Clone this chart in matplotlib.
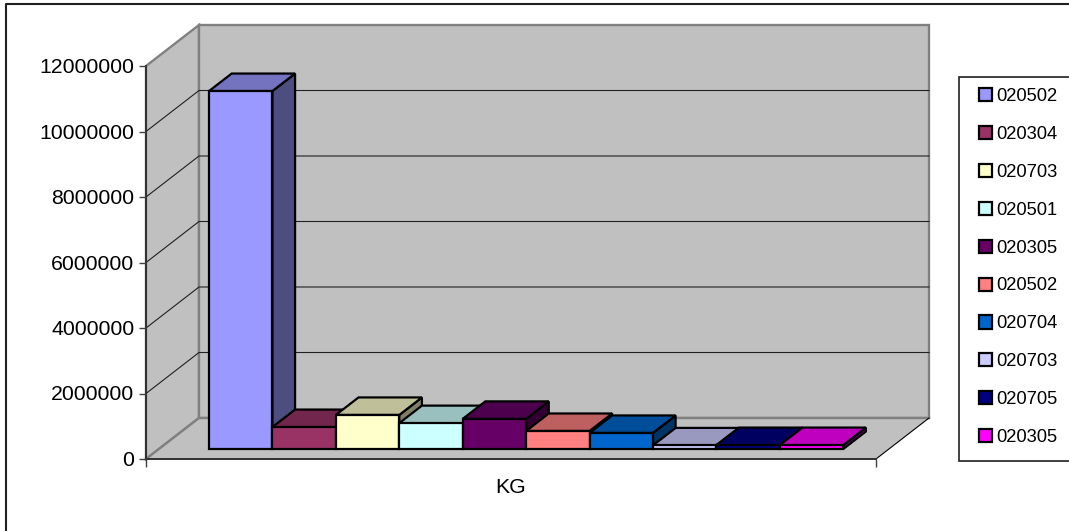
import matplotlib
matplotlib.use("Agg")
import matplotlib.pyplot as plt
from matplotlib.lines import Line2D
from matplotlib.patches import Polygon, Patch, Rectangle
from matplotlib.transforms import ScaledTranslation

plt.rcParams['font.family'] = ['Liberation Sans', 'DejaVu Sans']

# Data
codes = ['020502', '020304', '020703', '020501', '020305',
         '020502', '020704', '020703', '020705', '020305']
kg = [10930000, 670000, 1040000, 790000, 920000,
      550000, 490000, 110000, 120000, 120000]
face_colors = ['#9999FF', '#993366', '#FFFFCC', '#CCFFFF', '#660066',
               '#FF8080', '#0066CC', '#CCCCFF', '#000080', '#FF00FF']
value_ticks = [0, 2000000, 4000000, 6000000, 8000000, 10000000, 12000000]
category_label = 'KG'

W, H = 1069, 531
fig = plt.figure(figsize=(W / 100, H / 100), dpi=100, facecolor='white')

# Front plane of the 3D box, in figure fractions
x0, x1, y0, y1 = 146, 876, 459, 66
ax = fig.add_axes([x0 / W, 1 - y0 / H, (x1 - x0) / W, (y0 - y1) / H])
ax.patch.set_visible(False)
xmin, xmax = -0.79, 10.72
ymax = value_ticks[-1]
ax.set_xlim(xmin, xmax)
ax.set_ylim(0, ymax)

# Oblique projection: z runs from the front plane (0) to the back wall (1)
unit_x = (x1 - x0) / (xmax - xmin)
unit_y = (y0 - y1) / ymax
depth_x = 53 / unit_x
depth_y = 41 / unit_y


def proj(x, v, z=0.0):
    return (x + z * depth_x, v + z * depth_y)


def shade(hex_color, k):
    r, g, b = matplotlib.colors.to_rgb(hex_color)
    return (r * k, g * k, b * k)


wall_grey = '#C0C0C0'
edge_grey = '#808080'

# Walls and floor
side_wall = [proj(xmin, 0), proj(xmin, 0, 1), proj(xmin, ymax, 1), proj(xmin, ymax)]
back_wall = [proj(xmin, 0, 1), proj(xmax, 0, 1), proj(xmax, ymax, 1), proj(xmin, ymax, 1)]
floor = [proj(xmin, 0), proj(xmax, 0), proj(xmax, 0, 1), proj(xmin, 0, 1)]
for pts in (side_wall, back_wall):
    ax.add_patch(Polygon(pts, closed=True, fc=wall_grey, ec=edge_grey, lw=1.7,
                         clip_on=False, zorder=1))
ax.add_patch(Polygon(floor, closed=True, fc=wall_grey, ec='none',
                     clip_on=False, zorder=1.1))
for a, b in [(proj(xmin, 0), proj(xmin, 0, 1)), (proj(xmin, 0, 1), proj(xmax, 0, 1))]:
    ax.plot([a[0], b[0]], [a[1], b[1]], color=edge_grey, lw=1.7,
            clip_on=False, zorder=1.2)
ax.plot(*zip(proj(xmax, 0), proj(xmax, 0, 1)), color='black', lw=0.8,
        clip_on=False, zorder=1.2)

# Gridlines across the side wall and back wall
for v in value_ticks[1:-1]:
    pts = [proj(xmin, v), proj(xmin, v, 1), proj(xmax, v, 1)]
    ax.plot([p[0] for p in pts], [p[1] for p in pts], color='#202020', lw=0.8,
            clip_on=False, zorder=1.3)

# Bars, drawn left to right so each one overlaps its neighbour's side
z_front, z_back = 10 / 41, 27.5 / 41
for i, (value, color) in enumerate(zip(kg, face_colors)):
    l, r = i, i + 1
    side = [proj(r, 0, z_front), proj(r, 0, z_back), proj(r, value, z_back), proj(r, value, z_front)]
    top = [proj(l, value, z_front), proj(r, value, z_front), proj(r, value, z_back), proj(l, value, z_back)]
    front = [proj(l, 0, z_front), proj(r, 0, z_front), proj(r, value, z_front), proj(l, value, z_front)]
    base = 2 + i * 0.01
    ax.add_patch(Polygon(side, closed=True, fc=shade(color, 0.5), ec='black', lw=1.6,
                         joinstyle='miter', clip_on=False, zorder=base))
    ax.add_patch(Polygon(top, closed=True, fc=shade(color, 0.75), ec='black', lw=1.6,
                         joinstyle='miter', clip_on=False, zorder=base))
    ax.add_patch(Polygon(front, closed=True, fc=color, ec='black', lw=1.6,
                         joinstyle='miter', clip_on=False, zorder=base + 0.001))

# Axes furniture
for name in ('top', 'right'):
    ax.spines[name].set_visible(False)
for name in ('left', 'bottom'):
    ax.spines[name].set_color('#303030')
    ax.spines[name].set_linewidth(1.4)
    ax.spines[name].set_zorder(1.5)
ax.set_yticks(value_ticks)
ax.set_yticklabels([str(v) for v in value_ticks])
ax.tick_params(axis='y', length=5, width=1, color='#404040', labelsize=15.3, pad=3.5)
nudge = ScaledTranslation(0, 0.5 / 100, fig.dpi_scale_trans)
for label in ax.get_yticklabels():
    label.set_transform(label.get_transform() + nudge)
ax.set_xticks([xmin, xmax])
ax.set_xticklabels(['', ''])
ax.tick_params(axis='x', length=6, width=1, color='#404040')
ax.set_xlabel(category_label, fontsize=15.3, labelpad=4.5)

# Legend box runs past the right side of the figure
fig.add_artist(Rectangle((959 / W, 1 - 461 / H), 130 / W, 384 / H,
                         transform=fig.transFigure, fc='white', ec='#202020', lw=1.2))
handles = [Patch(fc=c, ec='black', lw=1.6) for c in face_colors]
leg = fig.legend(handles, codes, loc='upper left',
                 bbox_to_anchor=(979 / W, 1 - 88 / H), bbox_transform=fig.transFigure,
                 borderaxespad=0, borderpad=0, frameon=False, fontsize=13.2,
                 handlelength=0.72, handleheight=0.72, handletextpad=0.2,
                 labelspacing=1.14)

# Chart frame: only its top and left rules fall inside the figure
frame_x, frame_y = 6 / W, 1 - 3.5 / H
fig.add_artist(Line2D([frame_x, frame_x, 1], [0, frame_y, frame_y],
                      transform=fig.transFigure, color='#202020', lw=1.5))

fig.savefig('out.png', dpi=100)
